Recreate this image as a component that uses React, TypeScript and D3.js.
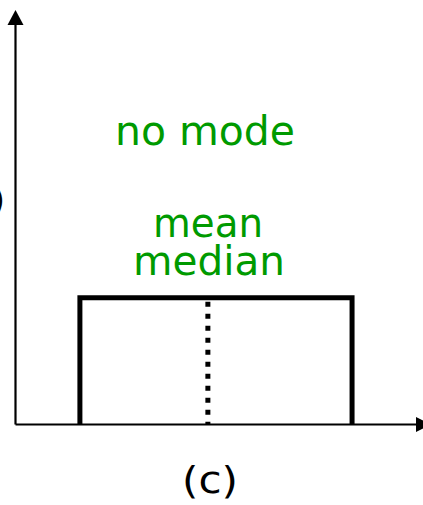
import React from "react";
import * as d3 from "d3";

// Uniform distribution sketch (c)
const xDomain = [0, 10];
const yDomain = [0, 1];
const uniformBounds = [1.55, 8.1]; // start, end of the flat density
const density = [0.306];
const centerValue = [4.63]; // mean = median
const labels = ["no mode", "mean", "median"];
const caption = ["(c)"];

const W = 423;
const H = 505;
const GREEN = "#009a00";
const FONT = "'Comic Sans MS', 'DejaVu Sans', sans-serif";

export default function App() {
  const x = d3.scaleLinear().domain(xDomain).range([15.5, 431]);
  const y = d3.scaleLinear().domain(yDomain).range([424.5, 10]);

  const x0 = x(xDomain[0]);
  const y0 = y(yDomain[0]);
  const xa = x(uniformBounds[0]);
  const xb = x(uniformBounds[1]);
  const yt = y(density[0]);
  const xm = x(centerValue[0]);

  const rectPath = d3.path();
  rectPath.moveTo(xa, y0);
  rectPath.lineTo(xa, yt);
  rectPath.lineTo(xb, yt);
  rectPath.lineTo(xb, y0);

  return (
    <div style={{ position: "fixed", left: 0, top: 0 }}>
      <svg width={W} height={H} style={{ display: "block", background: "#fff" }}>
        {/* y axis */}
        <line x1={x0} y1={y0} x2={x0} y2={y(yDomain[1]) + 12} stroke="#000" strokeWidth={2.2} />
        <polygon
          points={`${x0},${y(yDomain[1])} ${x0 - 8},${y(yDomain[1]) + 15} ${x0 + 8},${y(yDomain[1]) + 15}`}
          fill="#000"
        />
        {/* x axis */}
        <line x1={x0} y1={y0} x2={x(xDomain[1]) - 12} y2={y0} stroke="#000" strokeWidth={2} />
        <polygon
          points={`${x(xDomain[1])},${y0} ${x(xDomain[1]) - 15},${y0 - 7.5} ${x(xDomain[1]) - 15},${y0 + 7.5}`}
          fill="#000"
        />
        {/* cut-off y label */}
        <text x={5} y={212} textAnchor="end" fontFamily={FONT} fontSize={34} fill="#000">
          f(x)
        </text>
        {/* uniform density */}
        <path d={rectPath.toString()} fill="none" stroke="#000" strokeWidth={5} strokeLinejoin="miter" />
        {/* mean / median line */}
        <line
          x1={xm}
          y1={yt + 3}
          x2={xm}
          y2={y0}
          stroke="#000"
          strokeWidth={5}
          strokeDasharray="5,7"
          strokeDashoffset={-1}
        />
        {/* labels */}
        <text x={205} y={145} textAnchor="middle" fontFamily={FONT} fontSize={40} fill={GREEN}
          textLength={180} lengthAdjust="spacingAndGlyphs">
          {labels[0]}
        </text>
        <text x={208} y={237} textAnchor="middle" fontFamily={FONT} fontSize={40} fill={GREEN}
          textLength={110} lengthAdjust="spacingAndGlyphs">
          {labels[1]}
        </text>
        <text x={209} y={275} textAnchor="middle" fontFamily={FONT} fontSize={40} fill={GREEN}
          textLength={152} lengthAdjust="spacingAndGlyphs">
          {labels[2]}
        </text>
        <text x={210} y={493} textAnchor="middle" fontFamily={FONT} fontSize={38} fill="#000"
          textLength={56} lengthAdjust="spacingAndGlyphs">
          {caption[0]}
        </text>
      </svg>
    </div>
  );
}
